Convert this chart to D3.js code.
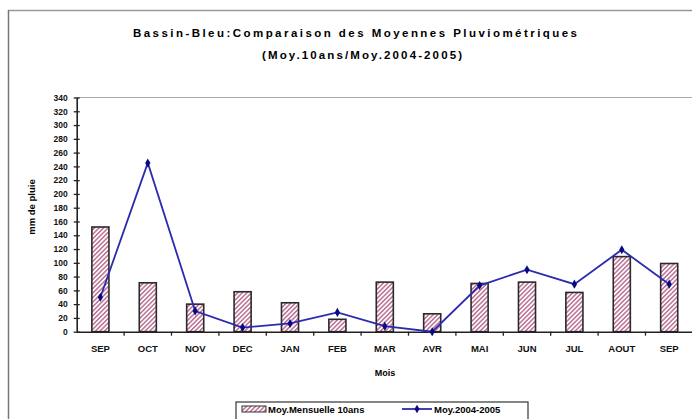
<!DOCTYPE html>
<html><head><meta charset="utf-8">
<script src="https://cdn.jsdelivr.net/npm/d3@7/dist/d3.min.js"></script>
<style>body{margin:0;background:#fff}svg{display:block;font-family:"Liberation Sans",Arial,sans-serif}</style>
</head><body><svg id="c" width="692" height="419"></svg>
<script>
const months = ["SEP","OCT","NOV","DEC","JAN","FEB","MAR","AVR","MAI","JUN","JUL","AOUT","SEP "];
const moy10ans = [152,71,40,58,42,18,72,26,70,72,57,109,99];
const moy2004 = [50,245,30,6,12,28,8,0,67,90,69,119,69];
const yTicks = d3.range(0,341,20);
const titleLines = ["Bassin-Bleu:Comparaison des Moyennes Pluviométriques","(Moy.10ans/Moy.2004-2005)"];
const legendLabels = ["Moy.Mensuelle 10ans","Moy.2004-2005"];

const svg = d3.select("#c");
const defs = svg.append("defs");
const pat = defs.append("pattern").attr("id","hatch").attr("patternUnits","userSpaceOnUse")
  .attr("width",3.2).attr("height",3.2).attr("patternTransform","rotate(45)");
pat.append("rect").attr("width",3.2).attr("height",3.2).attr("fill","#fff");
pat.append("line").attr("x1",0.8).attr("y1",0).attr("x2",0.8).attr("y2",3.2).attr("stroke","#b25a84").attr("stroke-width",1.3);

// outer frame
svg.append("line").attr("x1",8).attr("y1",10.5).attr("x2",692).attr("y2",10.5).attr("stroke","#999").attr("stroke-width",1.5);
svg.append("line").attr("x1",8.5).attr("y1",10).attr("x2",8.5).attr("y2",419).attr("stroke","#777").attr("stroke-width",1.5);

const L=76.7, R=692.9, T=97.5, B=331.7;
const x = d3.scaleBand().domain(months).range([L,R]);
const y = d3.scaleLinear().domain([0,340]).range([B,T]);

// plot top border
svg.append("line").attr("x1",L).attr("y1",T).attr("x2",692).attr("y2",T).attr("stroke","#aaa").attr("stroke-width",1.2);

// bars
const bw = x.bandwidth()*0.36;
svg.append("g").selectAll("rect").data(moy10ans).join("rect")
  .attr("x",(d,i)=>x(months[i])+x.bandwidth()/2-bw/2)
  .attr("y",d=>y(d)).attr("width",bw).attr("height",d=>B-y(d))
  .attr("fill","url(#hatch)").attr("stroke","#2a2a2a").attr("stroke-width",1.6);

// y axis
const ya = svg.append("g").attr("transform",`translate(${L},0)`)
  .call(d3.axisLeft(y).tickValues(yTicks).tickSize(0).tickPadding(9));
ya.select(".domain").attr("stroke","#222").attr("stroke-width",1.6);
ya.selectAll(".tick").append("line").attr("x1",-3).attr("x2",3).attr("stroke","#222").attr("stroke-width",1.3);
ya.selectAll("text").attr("font-size",8.5).attr("font-weight","bold").attr("font-family","Liberation Sans, Arial").attr("fill","#111");

// x axis
const xa = svg.append("g").attr("transform",`translate(0,${B})`)
  .call(d3.axisBottom(x).tickSize(0).tickPadding(14));
xa.select(".domain").attr("stroke","#222").attr("stroke-width",1.6);
xa.selectAll("text").attr("font-size",9.5).attr("font-weight","bold").attr("font-family","Liberation Sans, Arial").attr("fill","#111");
svg.append("g").selectAll("line").data(months.slice(1)).join("line")
  .attr("x1",d=>x(d)).attr("x2",d=>x(d)).attr("y1",B).attr("y2",B+4).attr("stroke","#222").attr("stroke-width",1.3);

// line
const line = d3.line().x((d,i)=>x(months[i])+x.bandwidth()/2).y(d=>y(d));
svg.append("path").datum(moy2004).attr("d",line).attr("fill","none").attr("stroke","#2b2bb0").attr("stroke-width",1.8);
svg.append("g").selectAll("path").data(moy2004).join("path")
  .attr("d",d3.symbol(d3.symbolDiamond,24))
  .attr("transform",(d,i)=>`translate(${x(months[i])+x.bandwidth()/2},${y(d)})`)
  .attr("fill","#0a0a80");

// titles
svg.append("text").attr("x",355).attr("y",37).attr("text-anchor","middle").attr("font-size",11.5).attr("font-weight","bold")
  .attr("textLength",444).attr("lengthAdjust","spacing").text(titleLines[0]);
svg.append("text").attr("x",362).attr("y",59).attr("text-anchor","middle").attr("font-size",11.5).attr("font-weight","bold")
  .attr("textLength",200).attr("lengthAdjust","spacing").text(titleLines[1]);
svg.append("text").attr("x",385).attr("y",376).attr("text-anchor","middle").attr("font-size",9).attr("font-weight","bold").text("Mois");
svg.append("text").attr("transform","translate(35,207) rotate(-90)").attr("text-anchor","middle").attr("font-size",9.5).attr("font-weight","bold").text("mm de pluie");

// legend
const lg = svg.append("g");
lg.append("rect").attr("x",236).attr("y",402).attr("width",292).attr("height",22).attr("fill","#fff").attr("stroke","#444").attr("stroke-width",1.3);
lg.append("rect").attr("x",242).attr("y",406).attr("width",24).attr("height",6).attr("fill","url(#hatch)").attr("stroke","#333").attr("stroke-width",1);
lg.append("text").attr("x",268).attr("y",413).attr("font-size",9.5).attr("font-weight","bold").text(legendLabels[0]);
lg.append("line").attr("x1",402).attr("x2",432).attr("y1",409).attr("y2",409).attr("stroke","#2b2bb0").attr("stroke-width",1.8);
lg.append("path").attr("d",d3.symbol(d3.symbolDiamond,22)).attr("transform","translate(417,409)").attr("fill","#0a0a80");
lg.append("text").attr("x",434).attr("y",413).attr("font-size",9.5).attr("font-weight","bold").text(legendLabels[1]);
</script></body></html>
